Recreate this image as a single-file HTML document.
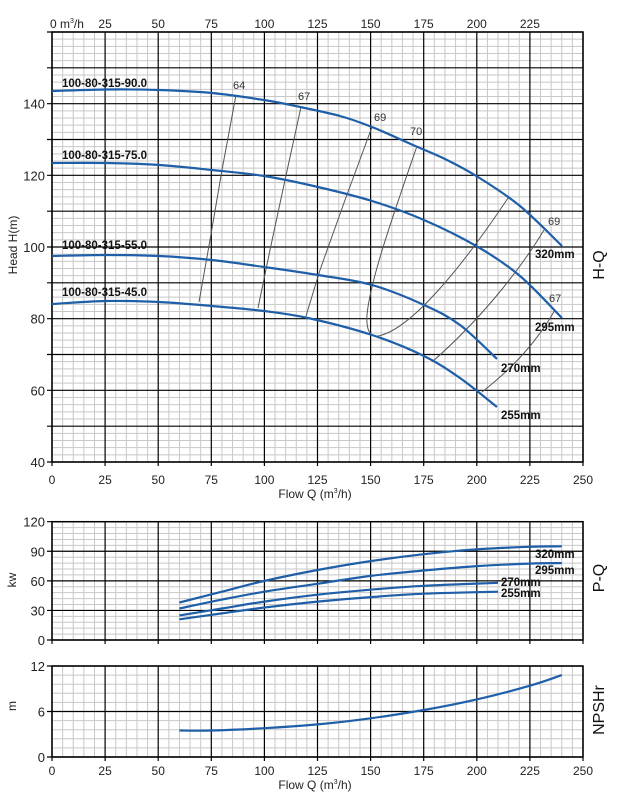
<!DOCTYPE html>
<html><head><meta charset="utf-8"><style>
body{margin:0;background:#fff}
svg{display:block;font-family:"Liberation Sans",sans-serif}
</style></head><body>
<svg id="s" width="620" height="797" xmlns="http://www.w3.org/2000/svg"></svg>
<script>
const S=document.getElementById('s');let h='';
const X=q=>52+q*2.124;
function grid(top,bot,vmin,vmax,minor,major){
  const Y=v=>bot-(v-vmin)*(bot-top)/(vmax-vmin);
  for(let q=0;q<=250;q+=5){if(q%25)h+=`<line x1="${X(q)}" y1="${top}" x2="${X(q)}" y2="${bot}" stroke="#c8c8c8" stroke-width="1"/>`;}
  for(let v=vmin;v<=vmax+1e-6;v+=minor){const r=Math.round((v-vmin)/major*1000)/1000;if(Math.abs(r-Math.round(r))>1e-3)h+=`<line x1="52" y1="${Y(v)}" x2="583" y2="${Y(v)}" stroke="#c8c8c8" stroke-width="1"/>`;}
  for(let q=0;q<=250;q+=25)h+=`<line x1="${X(q)}" y1="${top}" x2="${X(q)}" y2="${bot+4}" stroke="#000" stroke-width="1.2"/>`;
  for(let v=vmin;v<=vmax+1e-6;v+=major)h+=`<line x1="47" y1="${Y(v)}" x2="583" y2="${Y(v)}" stroke="#000" stroke-width="1.2"/>`;
  h+=`<rect x="52" y="${top}" width="531" height="${bot-top}" fill="none" stroke="#000" stroke-width="1.5"/>`;
  return Y;
}
function pl(pts,Y,c,w){return `<path d="${'M'+pts.map(p=>X(p[0]).toFixed(1)+','+Y(p[1]).toFixed(1)).join(' L')}" fill="none" stroke="${c}" stroke-width="${w}" stroke-linejoin="round"/>`;}
function pp(pts,c,w){return `<path d="M${pts.map(p=>p.join(',')).join(' ')}" fill="none" stroke="${c}" stroke-width="${w}"/>`;}
// main
const Y1=grid(32,462,40,160,2,10);
for(let v=40;v<=140;v+=20)h+=`<text x="45" y="${Y1(v)+5}" font-size="13" fill="#222" text-anchor="end">${v}</text>`;
for(let q=25;q<=250;q+=25)h+=`<text x="${X(q)}" y="484" font-size="12" fill="#222" text-anchor="middle">${q}</text>`;
h+=`<text x="${X(0)}" y="484" font-size="12" fill="#222" text-anchor="middle">0</text>`;
h+=`<text x="50" y="28" font-size="12" fill="#222">0 m<tspan font-size="7" dy="-5">3</tspan><tspan dy="5">/h</tspan></text>`;
for(let q=25;q<=225;q+=25)h+=`<text x="${X(q)}" y="28" font-size="12" fill="#222" text-anchor="middle">${q}</text>`;
h+=`<text x="315" y="498" font-size="12" fill="#222" text-anchor="middle">Flow Q (m<tspan font-size="7" dy="-5">3</tspan><tspan dy="5">/h)</tspan></text>`;
h+=`<text transform="translate(17,245) rotate(-90)" font-size="12" fill="#222" text-anchor="middle">Head H(m)</text>`;
h+=`<text transform="translate(604,265) rotate(-90)" font-size="16" fill="#111" text-anchor="middle">H-Q</text>`;
// efficiency lines (pixel coords)
const g='#555';
h+=pp([[236,95],[222,170],[210,240],[199,302]],g,1);
h+=pp([[301,107],[285,180],[270,250],[258,308]],g,1);
h+=pp([[372,127],[345,200],[320,270],[306,316]],g,1);
h+=`<path d="M417,146 C395,210 370,280 367,315 C366,330 370,337 378,336 C410,330 460,270 508,198" fill="none" stroke="${g}" stroke-width="1"/>`;
h+=`<path d="M544,230 C520,270 480,320 432,362" fill="none" stroke="${g}" stroke-width="1"/>`;
h+=`<path d="M555,310 C535,345 510,370 482,392" fill="none" stroke="${g}" stroke-width="1"/>`;
[[233,89,'64'],[298,100,'67'],[374,121,'69'],[410,135,'70'],[548,225,'69'],[549,302,'67']].forEach(t=>h+=`<text x="${t[0]}" y="${t[1]}" font-size="11" fill="#333">${t[2]}</text>`);
// H-Q curves
const B='#1f5fa8';
function pcurve(pts){return `<path d="M${pts.map(p=>p.join(',')).join(' L')}" fill="none" stroke="${B}" stroke-width="2.2" stroke-linejoin="round"/>`;}
function smooth(pts){let d='M'+pts[0].join(',');for(let i=0;i<pts.length-1;i++){const p0=pts[Math.max(0,i-1)],p1=pts[i],p2=pts[i+1],p3=pts[Math.min(pts.length-1,i+2)];d+=` C${(p1[0]+(p2[0]-p0[0])/6).toFixed(1)},${(p1[1]+(p2[1]-p0[1])/6).toFixed(1)} ${(p2[0]-(p3[0]-p1[0])/6).toFixed(1)},${(p2[1]-(p3[1]-p1[1])/6).toFixed(1)} ${p2[0]},${p2[1]}`;}return `<path d="${d}" fill="none" stroke="${B}" stroke-width="2.2"/>`;}
h+=smooth([[52,91],[106,89.5],[159,90],[212,93],[264,100],[300,107],[340,116],[372,127],[413,145],[445,159],[478,177],[520,206],[562,246]]);
h+=smooth([[52,163],[106,163],[159,165],[212,170],[264,176],[318,187],[372,201],[424,220],[478,247],[520,276],[562,318]]);
h+=smooth([[52,256],[106,255],[159,256],[212,260],[264,267],[318,275],[372,285],[424,305],[460,325],[497,359]]);
h+=smooth([[52,304],[106,301],[159,302],[212,306],[264,311],[308,318],[372,335],[424,356],[460,378],[497,407]]);
[[62,87,'100-80-315-90.0'],[62,159,'100-80-315-75.0'],[62,249,'100-80-315-55.0'],[62,296,'100-80-315-45.0']].forEach(t=>h+=`<text x="${t[0]}" y="${t[1]}" font-size="11.5" font-weight="bold" fill="#111">${t[2]}</text>`);
[[535,258,'320mm'],[535,331,'295mm'],[501,372,'270mm'],[501,419,'255mm']].forEach(t=>h+=`<text x="${t[0]}" y="${t[1]}" font-size="11.5" font-weight="bold" fill="#111">${t[2]}</text>`);
// P-Q
const Y2=grid(521.7,640,0,120,6,30);
for(let v=0;v<=120;v+=30)h+=`<text x="45" y="${Y2(v)+5}" font-size="13" fill="#222" text-anchor="end">${v}</text>`;
h+=`<text transform="translate(16,580) rotate(-90)" font-size="12" fill="#222" text-anchor="middle">kw</text>`;
h+=`<text transform="translate(604,578) rotate(-90)" font-size="16" fill="#111" text-anchor="middle">P-Q</text>`;
const sm2=(pts,Y)=>smooth(pts.map(p=>[+X(p[0]).toFixed(1),+Y(p[1]).toFixed(1)]));
h+=sm2([[60,38],[80,49],[100,60],[125,71],[150,80],[175,87],[200,92],[225,94.5],[240,95]],Y2);
h+=sm2([[60,32],[80,41],[100,49],[125,57],[150,65],[175,70.5],[200,75],[225,77.5],[240,78]],Y2);
h+=sm2([[60,25],[80,32],[100,39],[125,46],[150,51],[175,55],[210,58]],Y2);
h+=sm2([[60,21],[80,27],[100,33],[125,39],[150,43.5],[175,47],[210,49]],Y2);
[[535,558,'320mm'],[535,574,'295mm'],[501,586,'270mm'],[501,597,'255mm']].forEach(t=>h+=`<text x="${t[0]}" y="${t[1]}" font-size="11.5" font-weight="bold" fill="#111">${t[2]}</text>`);
// NPSH
const Y3=grid(666,757,0,12,1.2,6);
for(let v=0;v<=12;v+=6)h+=`<text x="45" y="${Y3(v)+5}" font-size="13" fill="#222" text-anchor="end">${v}</text>`;
for(let q=0;q<=250;q+=25)h+=`<text x="${X(q)}" y="775" font-size="12" fill="#222" text-anchor="middle">${q}</text>`;
h+=`<text x="315" y="789" font-size="12" fill="#222" text-anchor="middle">Flow Q (m<tspan font-size="7" dy="-5">3</tspan><tspan dy="5">/h)</tspan></text>`;
h+=`<text transform="translate(16,706) rotate(-90)" font-size="12" fill="#222" text-anchor="middle">m</text>`;
h+=`<text transform="translate(604,710) rotate(-90)" font-size="16" fill="#111" text-anchor="middle">NPSHr</text>`;
h+=sm2([[60,3.5],[75,3.5],[100,3.8],[125,4.3],[150,5.1],[175,6.2],[200,7.6],[225,9.4],[240,10.8]],Y3);
S.innerHTML=h;
</script>
</body></html>
